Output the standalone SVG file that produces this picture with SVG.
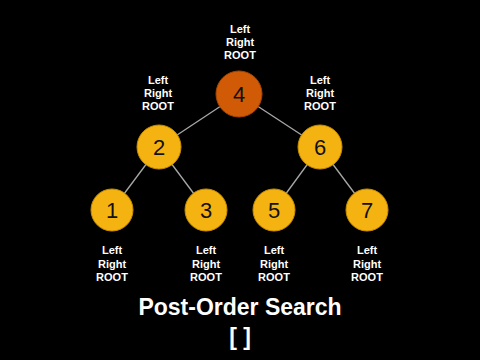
<svg xmlns="http://www.w3.org/2000/svg" width="480" height="360" viewBox="0 0 480 360">
<style>
.lbl{font-family:"Liberation Sans",Arial,sans-serif;font-weight:bold;font-size:11px;fill:#fff;text-anchor:middle}
.num{font-family:"Liberation Sans",Arial,sans-serif;font-size:22px;fill:#111;text-anchor:middle}
.y{fill:#f5b311;stroke:#c98f00;stroke-width:1}
.o{fill:#d15a06;stroke:#a84500;stroke-width:1}
.edge{stroke:#a8a8a8;stroke-width:1.3;fill:none}
.title{font-family:"Liberation Sans",Arial,sans-serif;font-weight:bold;font-size:23px;fill:#fff;text-anchor:middle}
</style>
<rect width="480" height="360" fill="#000"/>
<g id="connectors">
<line class="edge" x1="239" y1="94" x2="159" y2="147"/>
<line class="edge" x1="239" y1="94" x2="320" y2="147"/>
<line class="edge" x1="159" y1="147" x2="112" y2="210"/>
<line class="edge" x1="159" y1="147" x2="206" y2="210"/>
<line class="edge" x1="320" y1="147" x2="274" y2="210"/>
<line class="edge" x1="320" y1="147" x2="367" y2="210"/>
</g>
<g id="node4"><circle class="o" cx="239" cy="94" r="23"/><text class="num" x="239" y="102">4</text>
<text class="lbl" x="240" y="33">Left</text><text class="lbl" x="240" y="46">Right</text><text class="lbl" x="240" y="59">ROOT</text></g>
<g id="node2"><circle class="y" cx="159" cy="147" r="22"/><text class="num" x="159" y="155">2</text>
<text class="lbl" x="158" y="84">Left</text><text class="lbl" x="158" y="97">Right</text><text class="lbl" x="158" y="110">ROOT</text></g>
<g id="node6"><circle class="y" cx="320" cy="147" r="22"/><text class="num" x="320" y="155">6</text>
<text class="lbl" x="320" y="84">Left</text><text class="lbl" x="320" y="97">Right</text><text class="lbl" x="320" y="110">ROOT</text></g>
<g id="node1"><circle class="y" cx="112" cy="210" r="21"/><text class="num" x="112" y="218">1</text>
<text class="lbl" x="112" y="254">Left</text><text class="lbl" x="112" y="268">Right</text><text class="lbl" x="112" y="281">ROOT</text></g>
<g id="node3"><circle class="y" cx="206" cy="210" r="21"/><text class="num" x="206" y="218">3</text>
<text class="lbl" x="206" y="254">Left</text><text class="lbl" x="206" y="268">Right</text><text class="lbl" x="206" y="281">ROOT</text></g>
<g id="node5"><circle class="y" cx="274" cy="210" r="21"/><text class="num" x="274" y="218">5</text>
<text class="lbl" x="274" y="254">Left</text><text class="lbl" x="274" y="268">Right</text><text class="lbl" x="274" y="281">ROOT</text></g>
<g id="node7"><circle class="y" cx="367" cy="210" r="21"/><text class="num" x="367" y="218">7</text>
<text class="lbl" x="367" y="254">Left</text><text class="lbl" x="367" y="268">Right</text><text class="lbl" x="367" y="281">ROOT</text></g>
<text class="title" x="240" y="315">Post-Order Search</text>
<text class="title" x="240" y="345">[ ]</text>
</svg>
